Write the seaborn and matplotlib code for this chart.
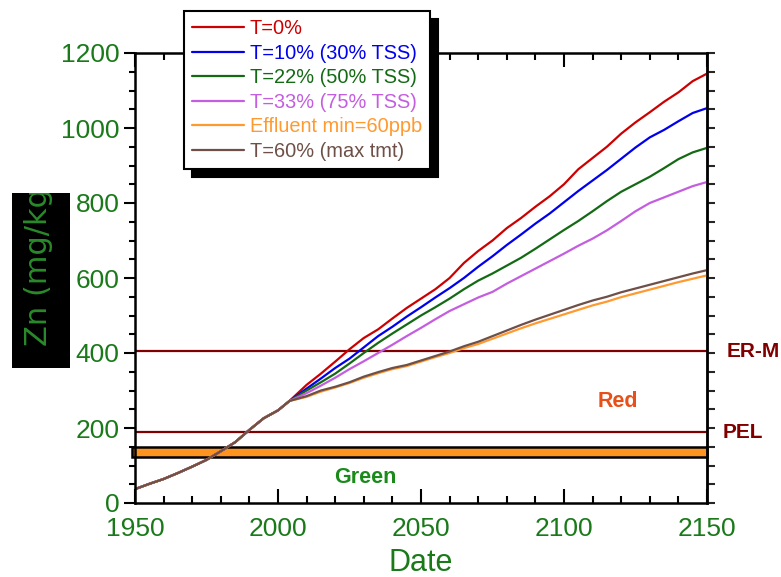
import numpy as np
import pandas as pd
import matplotlib
matplotlib.use("Agg")
import matplotlib.pyplot as plt
from matplotlib.patches import Rectangle
from matplotlib.ticker import MultipleLocator
import seaborn as sns

# shared history (all scenarios identical up to ~2004)
hist_years = [1950, 1955, 1960, 1965, 1970, 1975, 1980, 1985, 1990, 1995, 2000]
hist_zn = [37, 51, 64, 80, 97, 115, 138, 162, 195, 226, 247]

fut_years = [2004, 2010, 2015, 2020, 2025, 2030, 2035, 2040, 2045, 2050, 2055,
             2060, 2065, 2070, 2075, 2080, 2085, 2090, 2095, 2100, 2105,
             2110, 2115, 2120, 2125, 2130, 2135, 2140, 2145, 2150]

t0 = [272, 315, 345, 377, 410, 440, 463, 492, 520, 545, 570, 600, 640, 672, 700,
      733, 760, 790, 818, 850, 890, 920, 950, 985, 1015, 1042, 1070, 1095, 1125, 1145]
t10 = [272, 305, 332, 360, 385, 415, 445, 470, 497, 522, 548, 573, 600, 630, 658,
       688, 716, 745, 772, 802, 832, 860, 888, 918, 948, 975, 995, 1018, 1040, 1053]
t22 = [272, 300, 322, 345, 372, 400, 427, 452, 476, 500, 522, 545, 570, 593, 612,
       633, 654, 678, 703, 728, 752, 778, 805, 830, 850, 870, 893, 917, 935, 947]
t33 = [272, 293, 313, 334, 357, 378, 400, 422, 445, 467, 490, 512, 530, 548, 563,
       585, 605, 625, 645, 665, 686, 705, 727, 752, 778, 800, 815, 830, 845, 856]
effl = [272, 283, 297, 308, 320, 334, 346, 357, 365, 377, 389, 400, 413, 424, 438,
        452, 466, 479, 491, 503, 515, 527, 537, 549, 559, 569, 579, 589, 598, 607]
t60 = [272, 285, 300, 310, 322, 337, 349, 360, 368, 380, 392, 404, 418, 430, 445,
       460, 475, 489, 502, 515, 528, 540, 550, 562, 572, 582, 592, 602, 612, 621]

labels = ["T=0%", "T=10% (30% TSS)", "T=22% (50% TSS)", "T=33% (75% TSS)",
          "Effluent min=60ppb", "T=60% (max tmt)"]
colors = ["#cc0000", "#0000ee", "#146a14", "#c45ee0", "#ff9a30", "#6e5048"]
series = [t0, t10, t22, t33, effl, t60]

erm_level = 405
pel_level = 190
band_lo, band_hi = 123, 150

green = "#1a7a1a"

frames = []
for lab, vals in zip(labels, series):
    frames.append(pd.DataFrame({"year": hist_years + fut_years,
                                "zn": hist_zn + vals, "series": lab}))
df = pd.concat(frames, ignore_index=True)

sns.set_style("white")
plt.rcParams["font.family"] = ["Liberation Sans", "DejaVu Sans"]

fig = plt.figure(figsize=(7.81, 5.77), dpi=100)
ax = fig.add_axes([135 / 781, 74 / 577, 572 / 781, 450 / 577])

sns.lineplot(data=df, x="year", y="zn", hue="series", hue_order=labels,
             palette=colors, linewidth=1.6, estimator=None, legend=False, ax=ax)
handles = list(ax.lines[:6])

ax.axhline(erm_level, color="#800000", lw=1.6, zorder=1)
ax.axhline(pel_level, color="#800000", lw=1.6, zorder=1)
ax.add_patch(Rectangle((1948.8, band_lo), 201.2, band_hi - band_lo,
                       facecolor="#ff9320", edgecolor="black", lw=1.8,
                       clip_on=False, zorder=1))

ax.set_xlim(1950, 2150)
ax.set_ylim(0, 1200)
ax.xaxis.set_major_locator(MultipleLocator(50))
ax.xaxis.set_minor_locator(MultipleLocator(10))
ax.yaxis.set_major_locator(MultipleLocator(200))
ax.yaxis.set_minor_locator(MultipleLocator(50))

for sp in ax.spines.values():
    sp.set_linewidth(1.8)
    sp.set_color("black")

ax.tick_params(axis="x", which="both", direction="in", top=True, bottom=True,
               width=1.5, colors="black", labelcolor=green, labelsize=19, pad=10)
ax.tick_params(axis="x", which="major", length=10)
ax.tick_params(axis="x", which="minor", length=5)
ax.tick_params(axis="y", which="both", direction="out", left=True, right=False,
               width=1.5, colors="black", labelcolor=green, labelsize=19, pad=3)
ax.tick_params(axis="y", which="major", length=8)
ax.tick_params(axis="y", which="minor", length=4)

sec = ax.secondary_yaxis("right")
sec.set_yticks(np.arange(0, 1201, 50))
sec.tick_params(direction="out", length=6, width=1.5, labelright=False)
sec.spines["right"].set_linewidth(1.8)

ax.set_xlabel("Date", color=green, fontsize=22, labelpad=5)
ax.set_ylabel("")

ax.text(2118.7, 270, "Red", color="#e8501a", fontsize=15.5, fontweight="bold",
        ha="center", va="center")
ax.text(2030.6, 69, "Green", color="#1a8a1a", fontsize=15.5, fontweight="bold",
        ha="center", va="center")
ax.text(2157, erm_level - 2, "ER-M", color="#800000", fontsize=15, fontweight="bold",
        ha="left", va="center", clip_on=False)
ax.text(2155.6, pel_level - 2, "PEL", color="#800000", fontsize=15, fontweight="bold",
        ha="left", va="center", clip_on=False)

# y label on black box, clipped like the original
box = Rectangle((12 / 781, 1 - 368 / 577), 58 / 781, 175 / 577,
                transform=fig.transFigure, facecolor="black", edgecolor="none")
fig.patches.append(box)
yl = fig.text(39 / 781, 1 - 346 / 577, "Zn (mg/kg)", rotation=90, color="#2a8a2a",
              fontsize=22, family="DejaVu Sans", ha="center", va="bottom")
yl.set_clip_path(box)

leg = fig.legend(handles, labels, loc="upper left",
                 bbox_to_anchor=(184 / 781, 1 - 11 / 577), borderaxespad=0,
                 fontsize=14.4, labelcolor="linecolor", frameon=True,
                 fancybox=False, framealpha=1, edgecolor="black",
                 handlelength=2.6, handletextpad=0.3, labelspacing=0.28,
                 borderpad=0.4,
                 shadow={"color": "black", "alpha": 1, "ox": 6, "oy": -6})
leg.get_frame().set_linewidth(1.5)

fig.savefig("out.png", dpi=100)
